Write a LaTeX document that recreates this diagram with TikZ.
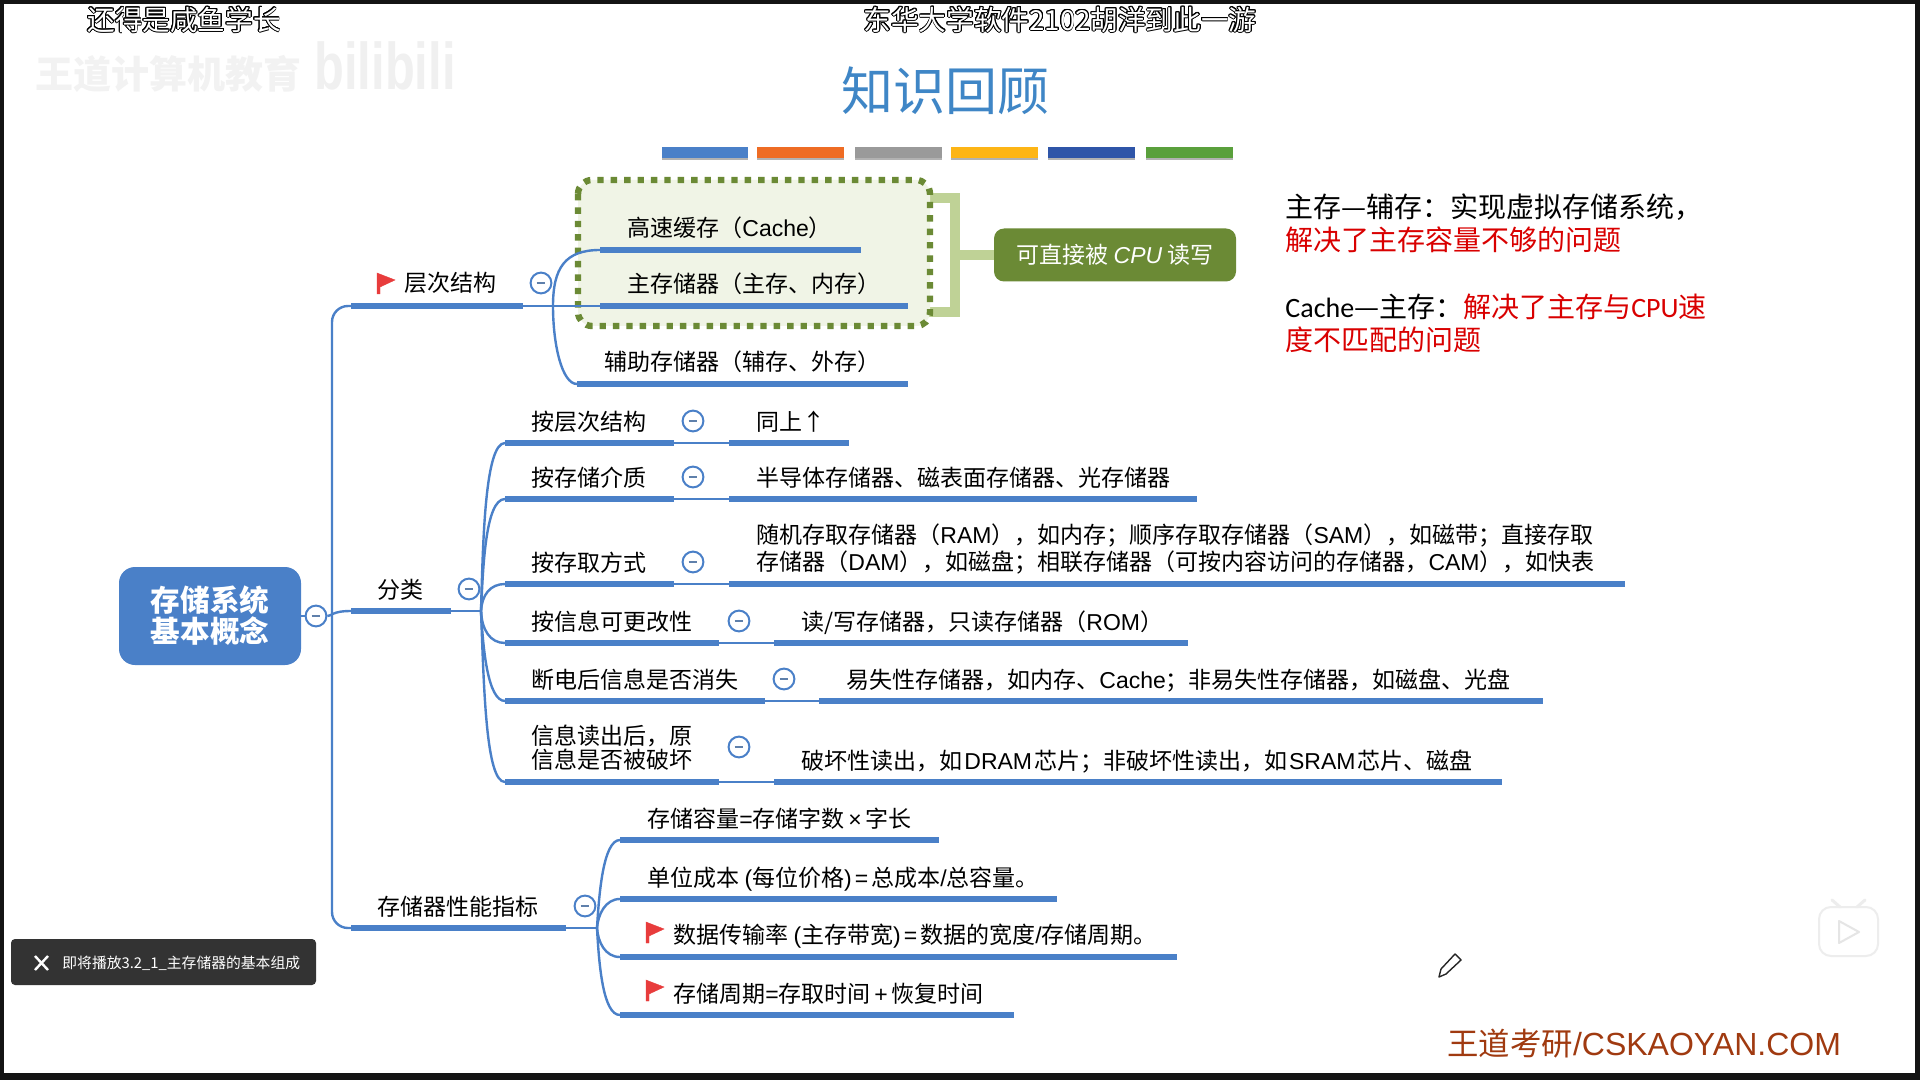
\documentclass[tikz,border=0pt]{standalone}
\usepackage{fontspec}
\usepackage[copies]{contour}
\setmainfont{Noto Sans CJK SC}
\newfontfamily\arialfont{Liberation Sans}
\newfontfamily\carlitofont{Carlito}
\newcommand{\lat}[1]{{\arialfont #1}}
\newcommand{\car}[1]{{\carlitofont #1}}
\contourlength{0.45pt}
\definecolor{mapblue}{HTML}{4A80C8}
\definecolor{titleblue}{HTML}{3F86C6}
\definecolor{boxgreen}{HTML}{6B8A35}
\definecolor{brackgreen}{HTML}{BFD296}
\definecolor{palegreen}{HTML}{F0F4E6}
\definecolor{flagred}{HTML}{E83C3C}
\definecolor{footbrown}{HTML}{A03A10}
\definecolor{barorange}{HTML}{EE6C24}
\definecolor{bargrey}{HTML}{9A9A9A}
\definecolor{baryellow}{HTML}{FDB515}
\definecolor{bardark}{HTML}{2F55A8}
\definecolor{bargreen}{HTML}{5AA03C}
\tikzset{
	txt/.style = {anchor=west, inner sep=0pt, text height=9.6pt, text depth=0.6pt, font=\fontsize{11.5}{13.5}\selectfont},
	multi/.style = {anchor=west, inner sep=0pt, align=left, font=\fontsize{11.5}{13.5}\selectfont},
	note/.style = {anchor=west, inner sep=0pt, align=left, font=\fontsize{14}{16.5}\selectfont},
	bar/.style = {color=mapblue, line width=3pt},
	thin/.style = {color=mapblue, line width=1.2pt},
	fold/.style = {circle, draw=mapblue, fill=white, line width=1pt, minimum size=10.4pt, inner sep=0pt,
		path picture={\draw[color=mapblue!60!gray, line width=0.7pt] ([xshift=-2.2pt]path picture bounding box.center) -- ([xshift=2.2pt]path picture bounding box.center);}},
	redflag/.style = {fill=flagred, draw=flagred, line width=0.2pt},
	danmu/.style = {text=white, inner sep=0pt, font=\fontsize{13.8}{14}\selectfont}
}
\begin{document}
\begin{tikzpicture}[x=0.5pt, y=-0.5pt]
\useasboundingbox (0,0) rectangle (1920,1080);
\fill[color=black!92] (0,0) rectangle (1920,1080);
\fill[color=white] (4,4) rectangle (1915,1073);

% top line
\node[danmu] (fish) at (184,20) {\contour{black}{还得是咸鱼学长}};
\node[danmu] (dhu) at (1060,20) {\contour{black}{东华大学软件2102胡洋到此一游}};
\node[inner sep=0pt, color=black!5, font=\fontsize{19}{19}\selectfont\bfseries] (wd) at (168,74) {王道计算机教育};
\node[inner sep=0pt, color=black!6, xscale=0.74, transform shape, font=\arialfont\fontsize{33}{33}\selectfont\bfseries] (bili) at (385,66) {bilibili};
\node[inner sep=0pt, color=titleblue, font=\fontsize{26}{26}\selectfont] (title) at (945,91) {知识回顾};

% colour stripes
\fill[color=black!30] (662,154) rectangle (748,160);
\fill[color=black!30] (757,154) rectangle (844,160);
\fill[color=black!30] (855,154) rectangle (942,160);
\fill[color=black!30] (951,154) rectangle (1038,160);
\fill[color=black!30] (1048,154) rectangle (1135,160);
\fill[color=black!30] (1146,154) rectangle (1233,160);
\fill[color=mapblue] (662,147) rectangle (748,158);
\fill[color=barorange] (757,147) rectangle (844,158);
\fill[color=bargrey] (855,147) rectangle (942,158);
\fill[color=baryellow] (951,147) rectangle (1038,158);
\fill[color=bardark] (1048,147) rectangle (1135,158);
\fill[color=bargreen] (1146,147) rectangle (1233,158);

% dotted group and its bracket
\coordinate (bT) at (925,198);
\coordinate (bTR) at (955,198);
\coordinate (bBR) at (955,312);
\coordinate (bB) at (925,312);
\coordinate (bM) at (955,255);
\draw (bT) -- (bTR) -- (bBR) -- (bB)[color=brackgreen, line width=5pt];
\draw[fill=palegreen, draw=boxgreen, line width=3.2pt, dash pattern=on 3.2pt off 3.5pt, rounded corners=7pt] (578,180) rectangle (930,326);
\node[fill=boxgreen, rounded corners=5pt, minimum width=121pt, minimum height=26.5pt, inner sep=0pt, text=white, font=\fontsize{11.5}{13.5}\selectfont] (cpu) at (1115,255) {可直接被 \textit{\lat{CPU}} 读写};
\draw (bM) -- (cpu)[color=brackgreen, line width=5pt];

% notes on the right
\node[note] (noteA) at (1285,223) {主存—辅存：实现虚拟存储系统，\\\textcolor{red!85!black}{解决了主存容量不够的问题}};
\node[note] (noteB) at (1285,323) {\car{Cache}—主存：\textcolor{red!85!black}{解决了主存与\car{CPU}速}\\\textcolor{red!85!black}{度不匹配的问题}};

% root and trunk
\node[fill=mapblue, rounded corners=8pt, minimum width=91pt, minimum height=49pt, inner sep=0pt, align=center, text=white, font=\fontsize{14.8}{15.5}\selectfont\bfseries] (root) at (210,616) {存储系统\\基本概念};
\node[fold] (fRoot) at (316,616) {};
\coordinate (lvlA) at (351,306);
\coordinate (lvlAe) at (523,306);
\coordinate (lvlB) at (351,611);
\coordinate (lvlBe) at (451,611);
\coordinate (lvlC) at (351,928);
\coordinate (lvlCe) at (566,928);
\coordinate (trunkA) at (332,306);
\coordinate (trunkC) at (332,928);
\draw[thin, rounded corners=8pt] (lvlA) -- (trunkA) -- (trunkC) -- (lvlC);
\draw[thin] (fRoot.east) .. controls (332,616) and (332,611) .. (lvlB);
\draw (root) -- (fRoot)[thin];
\draw (lvlA) -- (lvlAe)[bar];
\draw (lvlB) -- (lvlBe)[bar];
\draw (lvlC) -- (lvlCe)[bar];

% branch one
\coordinate (jA) at (553,306);
\coordinate (aOne) at (600,250);
\coordinate (aOneE) at (861,250);
\coordinate (aTwo) at (600,306);
\coordinate (aTwoE) at (908,306);
\coordinate (aThree) at (577,384);
\coordinate (aThreeE) at (908,384);
\draw (lvlAe) -- (aTwo)[thin];
\draw[thin] (jA) .. controls (553,268) and (565,250) .. (aOne);
\draw[thin] (jA) .. controls (553,345) and (562,384) .. (aThree);
\draw (aOne) -- (aOneE)[bar];
\draw (aTwo) -- (aTwoE)[bar];
\draw (aThree) -- (aThreeE)[bar];
\filldraw[redflag] (377,273) -- (395,280) -- (380,287) -- (380,294) -- (377,294) -- cycle;
\node[txt] (tA) at (404,283) {层次结构};
\node[fold] (fA) at (541,283) {};
\node[txt] (tOne) at (627,228) {高速缓存（\lat{Cache}）};
\node[txt] (tTwo) at (627,284) {主存储器（主存、内存）};
\node[txt] (tThree) at (604,362) {辅助存储器（辅存、外存）};

% branch two
\coordinate (jB) at (481,611);
\coordinate (bOne) at (505,443);
\coordinate (bOneE) at (674,443);
\coordinate (cOne) at (729,443);
\coordinate (cOneE) at (849,443);
\coordinate (bTwo) at (505,499);
\coordinate (bTwoE) at (674,499);
\coordinate (cTwo) at (729,499);
\coordinate (cTwoE) at (1197,499);
\coordinate (bThree) at (505,584);
\coordinate (bThreeE) at (674,584);
\coordinate (cThree) at (729,584);
\coordinate (cThreeE) at (1625,584);
\coordinate (bFour) at (505,643);
\coordinate (bFourE) at (719,643);
\coordinate (cFour) at (774,643);
\coordinate (cFourE) at (1188,643);
\coordinate (bFive) at (505,701);
\coordinate (bFiveE) at (765,701);
\coordinate (cFive) at (819,701);
\coordinate (cFiveE) at (1543,701);
\coordinate (bSix) at (505,782);
\coordinate (bSixE) at (719,782);
\coordinate (cSix) at (774,782);
\coordinate (cSixE) at (1502,782);
\draw (lvlBe) -- (jB)[thin];
\draw[thin] (jB) .. controls (483,540) and (485,443) .. (bOne);
\draw[thin] (jB) .. controls (483,570) and (485,499) .. (bTwo);
\draw[thin] (jB) .. controls (482,595) and (490,584) .. (bThree);
\draw[thin] (jB) .. controls (482,630) and (490,643) .. (bFour);
\draw[thin] (jB) .. controls (483,650) and (488,701) .. (bFive);
\draw[thin] (jB) .. controls (484,690) and (486,782) .. (bSix);
\draw (bOne) -- (bOneE)[bar];
\draw (bOneE) -- (cOne)[thin];
\draw (cOne) -- (cOneE)[bar];
\draw (bTwo) -- (bTwoE)[bar];
\draw (bTwoE) -- (cTwo)[thin];
\draw (cTwo) -- (cTwoE)[bar];
\draw (bThree) -- (bThreeE)[bar];
\draw (bThreeE) -- (cThree)[thin];
\draw (cThree) -- (cThreeE)[bar];
\draw (bFour) -- (bFourE)[bar];
\draw (bFourE) -- (cFour)[thin];
\draw (cFour) -- (cFourE)[bar];
\draw (bFive) -- (bFiveE)[bar];
\draw (bFiveE) -- (cFive)[thin];
\draw (cFive) -- (cFiveE)[bar];
\draw (bSix) -- (bSixE)[bar];
\draw (bSixE) -- (cSix)[thin];
\draw (cSix) -- (cSixE)[bar];
\node[txt] (tB) at (377,589) {分类};
\node[fold] (fB) at (469,589) {};
\node[txt] (sOne) at (531,421) {按层次结构};
\node[fold] (fOne) at (693,421) {};
\node[txt] (dOne) at (756,421) {同上↑};
\node[txt] (sTwo) at (531,477) {按存储介质};
\node[fold] (fTwo) at (693,477) {};
\node[txt] (dTwo) at (756,477) {半导体存储器、磁表面存储器、光存储器};
\node[txt] (sThree) at (531,562) {按存取方式};
\node[fold] (fThree) at (693,562) {};
\node[multi] (dThree) at (756,549) {随机存取存储器（\lat{RAM}），如内存；顺序存取存储器（\lat{SAM}），如磁带；直接存取\\存储器（\lat{DAM}），如磁盘；相联存储器（可按内容访问的存储器，\lat{CAM}），如快表};
\node[txt] (sFour) at (531,621) {按信息可更改性};
\node[fold] (fFour) at (739,621) {};
\node[txt] (dFour) at (801,621) {读/写存储器，只读存储器（\lat{ROM}）};
\node[txt] (sFive) at (531,679) {断电后信息是否消失};
\node[fold] (fFive) at (784,679) {};
\node[txt] (dFive) at (846,679) {易失性存储器，如内存、\lat{Cache}；非易失性存储器，如磁盘、光盘};
\node[multi, font=\fontsize{11.5}{12}\selectfont] (sSix) at (531,748) {信息读出后，原\\信息是否被破坏};
\node[fold] (fSix) at (739,747) {};
\node[txt] (dSix) at (801,760) {破坏性读出，如\hspace{1pt}\lat{DRAM}\hspace{1pt}芯片；非破坏性读出，如\hspace{1pt}\lat{SRAM}\hspace{1pt}芯片、磁盘};

% branch three
\coordinate (jC) at (597,928);
\coordinate (eOne) at (620,840);
\coordinate (eOneE) at (939,840);
\coordinate (eTwo) at (620,899);
\coordinate (eTwoE) at (1057,899);
\coordinate (eThree) at (620,957);
\coordinate (eThreeE) at (1177,957);
\coordinate (eFour) at (620,1015);
\coordinate (eFourE) at (1014,1015);
\draw (lvlCe) -- (jC)[thin];
\draw[thin] (jC) .. controls (599,895) and (603,840) .. (eOne);
\draw[thin] (jC) .. controls (598,915) and (605,899) .. (eTwo);
\draw[thin] (jC) .. controls (598,942) and (605,957) .. (eThree);
\draw[thin] (jC) .. controls (599,965) and (603,1015) .. (eFour);
\draw (eOne) -- (eOneE)[bar];
\draw (eTwo) -- (eTwoE)[bar];
\draw (eThree) -- (eThreeE)[bar];
\draw (eFour) -- (eFourE)[bar];
\node[txt] (tC) at (377,906) {存储器性能指标};
\node[fold] (fC) at (585,906) {};
\node[txt] (gOne) at (647,818) {存储容量\lat{=}存储字数\lat{\hspace{1.8pt}×\hspace{1.8pt}}字长};
\node[txt] (gTwo) at (647,877) {单位成本 \lat{(}每位价格\lat{)\hspace{1.5pt}=\hspace{1.5pt}}总成本\lat{/}总容量。};
\node[txt] (gThree) at (673,934) {数据传输率 \lat{(}主存带宽\lat{)\hspace{1.5pt}=\hspace{1.5pt}}数据的宽度\lat{/}存储周期。};
\node[txt] (gFour) at (673,993) {存储周期\lat{=}存取时间\lat{\hspace{1.8pt}+\hspace{1.8pt}}恢复时间};
\filldraw[redflag] (646,922) -- (664,929) -- (649,936) -- (649,943) -- (646,943) -- cycle;
\filldraw[redflag] (646,980) -- (664,987) -- (649,994) -- (649,1001) -- (646,1001) -- cycle;

% player overlays
\fill[color=black!80, rounded corners=2pt] (11,939) rectangle (316,985);
\draw[color=white, line width=1.2pt] (35,956) -- (48,970);
\draw[color=white, line width=1.2pt] (48,956) -- (35,970);
\node[anchor=west, inner sep=0pt, text=white, font=\fontsize{7.4}{8}\selectfont] (toast) at (62,963) {即将播放3.2\_1\_主存储器的基本组成};
\draw[color=black!7, line width=1pt, fill=white, rounded corners=6pt] (1819,907) rectangle (1878,956);
\draw[color=black!7, line width=1.5pt, line cap=round] (1832,900) -- (1840,907);
\draw[color=black!7, line width=1.5pt, line cap=round] (1865,900) -- (1857,907);
\draw[color=black!10, line width=1pt, fill=white, line join=round] (1839,921) -- (1859,932) -- (1839,943) -- cycle;
\filldraw[fill=white, draw=black!85, line width=0.7pt, line join=round] (1439,977) -- (1446,974) -- (1461,960) -- (1455,954) -- (1441,969) -- cycle;
\node[anchor=west, inner sep=0pt, text=footbrown, font=\fontsize{15.7}{16}\selectfont] (foot) at (1447,1044) {王道考研{\arialfont\fontsize{16}{16}\selectfont /CSKAOYAN.COM}};
\end{tikzpicture}
\end{document}
